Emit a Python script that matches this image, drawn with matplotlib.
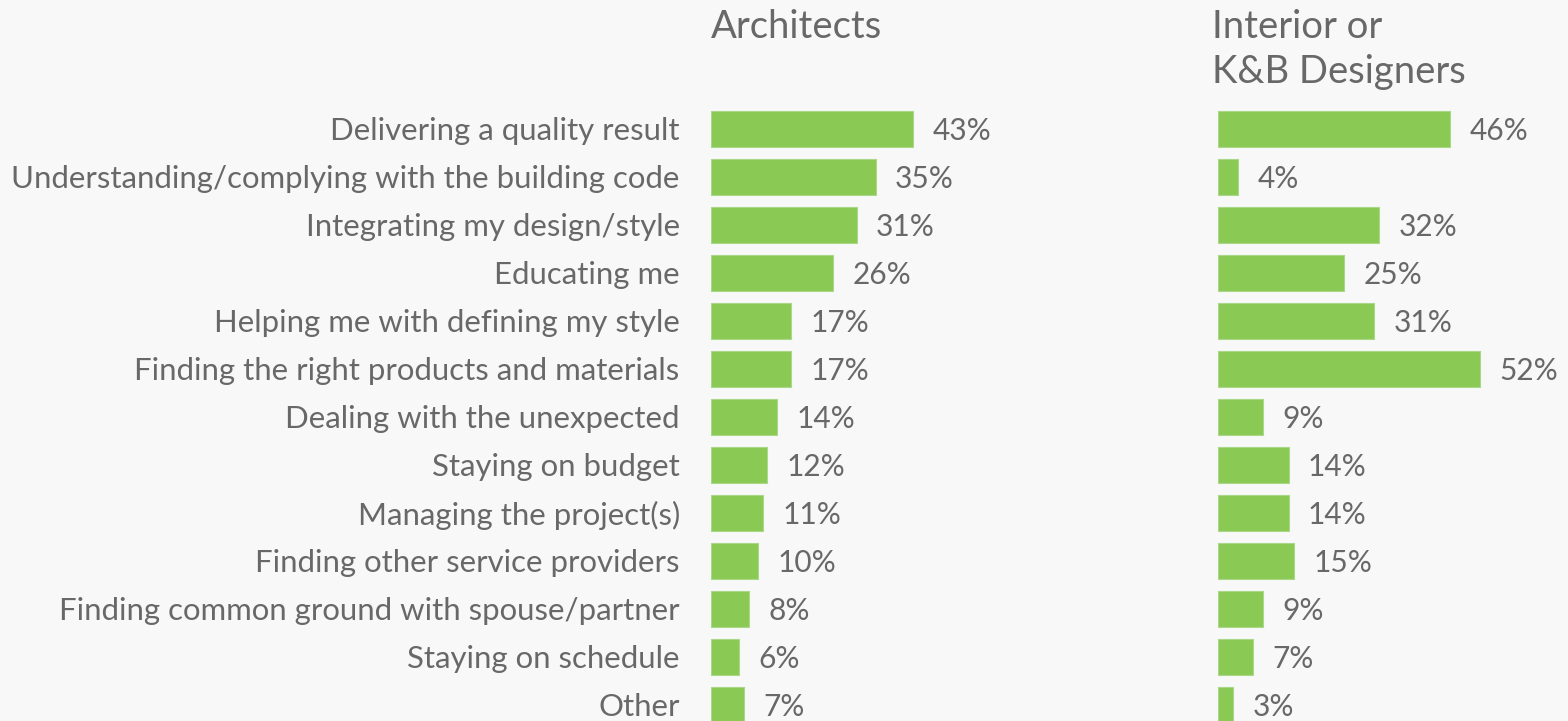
import matplotlib
matplotlib.use("Agg")
import matplotlib.pyplot as plt

categories = [
    "Delivering a quality result",
    "Understanding/complying with the building code",
    "Integrating my design/style",
    "Educating me",
    "Helping me with defining my style",
    "Finding the right products and materials",
    "Dealing with the unexpected",
    "Staying on budget",
    "Managing the project(s)",
    "Finding other service providers",
    "Finding common ground with spouse/partner",
    "Staying on schedule",
    "Other",
]
architects = [43, 35, 31, 26, 17, 17, 14, 12, 11, 10, 8, 6, 7]
designers = [46, 4, 32, 25, 31, 52, 9, 14, 14, 15, 9, 7, 3]
titles = ["Architects", "Interior or\nK&B Designers"]

BG = "#f8f8f8"
GREEN = "#8bc955"
TXT = "#686868"
FONT = ["Lato", "DejaVu Sans"]

W, H = 1568, 721
fig = plt.figure(figsize=(W / 100, H / 100), dpi=100, facecolor=BG)

top_px = 105
n = len(categories)
ylim = ((H - 129) / 48.0, (top_px - 129) / 48.0)


def make_ax(x0, x1, scale):
    ax = fig.add_axes([x0 / W, 0, (x1 - x0) / W, (H - top_px) / H])
    ax.set_facecolor(BG)
    ax.set_xlim(0, (x1 - x0) / scale)
    ax.set_ylim(*ylim)
    for s in ax.spines.values():
        s.set_visible(False)
    ax.tick_params(left=False, bottom=False, labelbottom=False, labelleft=False)
    ax.set_yticks([])
    return ax


ax1 = make_ax(711, 1150, 4.7)
ax2 = make_ax(1218, 1568, 5.04)

for ax, vals in [(ax1, architects), (ax2, designers)]:
    ys = list(range(n))
    ax.barh(ys, vals, height=0.77, color=GREEN, edgecolor="#a8d888", linewidth=0.8)
    for y, v in zip(ys, vals):
        ax.annotate(f"{v}%", (v, y), xytext=(14, -1.5), textcoords="offset points",
                    va="center", ha="left", fontsize=21.5, color=TXT, family=FONT,
                    annotation_clip=False)

for y, cat in enumerate(categories):
    ax1.annotate(cat, (0, y), xytext=(-22.5, -1.5), textcoords="offset points",
                 va="center", ha="right", fontsize=22.4, color=TXT, family=FONT,
                 annotation_clip=False)

fig.text(711 / W, 1 - 9 / H, titles[0], ha="left", va="top", fontsize=27.5,
         color=TXT, family=FONT)
fig.text(1212 / W, 1 - 9 / H, titles[1], ha="left", va="top", fontsize=27.5,
         color=TXT, family=FONT, linespacing=1.3)

fig.savefig("out.png", dpi=100, facecolor=BG)
